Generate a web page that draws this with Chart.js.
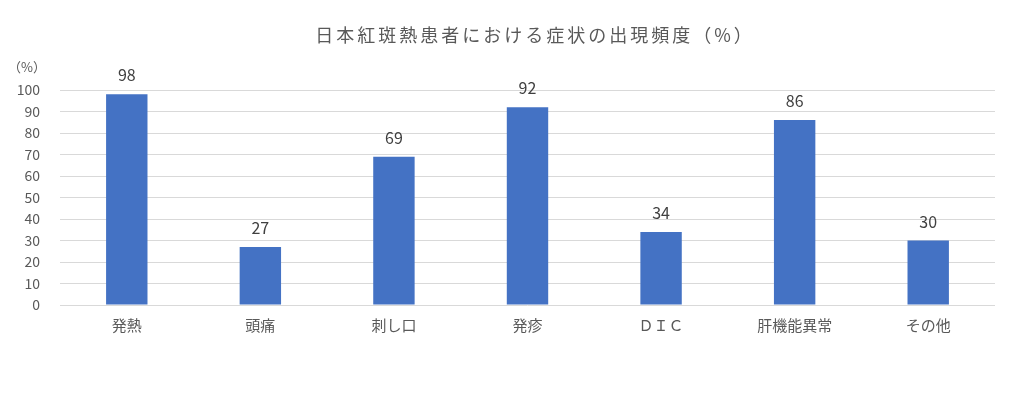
<!DOCTYPE html>
<html>
<head>
<meta charset="utf-8">
<script src="https://cdn.jsdelivr.net/npm/chart.js@4"></script>
<style>
  html, body { margin: 0; padding: 0; background: #fff; }
  #wrap { width: 1011px; height: 407px; }
</style>
</head>
<body>
<div id="wrap"><canvas id="symptomChart"></canvas></div>
<script>
const categories = ["発熱", "頭痛", "刺し口", "発疹", "ＤＩＣ", "肝機能異常", "その他"];
const frequency = [98, 27, 69, 92, 34, 86, 30];
const yTicks = [0, 10, 20, 30, 40, 50, 60, 70, 80, 90, 100];
const chartTitle = "日本紅斑熱患者における症状の出現頻度（%）";

const FONT = "'Noto Sans CJK JP', 'Noto Sans', sans-serif";
const TEXT = "#595959";

// title (spaced out like the original), value labels and the "(%)" unit mark
const barLabels = {
  id: "barLabels",
  afterDatasetsDraw(chart) {
    const { ctx } = chart;
    const meta = chart.getDatasetMeta(0);
    ctx.save();
    ctx.textAlign = "center";
    ctx.textBaseline = "middle";

    ctx.font = "18px " + FONT;
    ctx.fillStyle = TEXT;
    ctx.letterSpacing = "3px";
    ctx.fillText(chartTitle, 535, 35);
    ctx.letterSpacing = "0px";

    ctx.font = "16px " + FONT;
    ctx.fillStyle = "#404040";
    meta.data.forEach((bar, i) => {
      ctx.fillText(String(frequency[i]), bar.x, bar.y - 19);
    });

    ctx.font = "13px " + FONT;
    ctx.fillStyle = TEXT;
    ctx.fillText("（%）", 27, 67);
    ctx.restore();
  },
};

new Chart(document.getElementById("symptomChart"), {
  type: "bar",
  data: {
    labels: categories,
    datasets: [
      {
        data: frequency,
        backgroundColor: "#4472C4",
        categoryPercentage: 1,
        barPercentage: 0.31,
      },
    ],
  },
  options: {
    responsive: true,
    maintainAspectRatio: false,
    animation: false,
    layout: { padding: { left: 0, right: 16, top: 90, bottom: 70 } },
    plugins: {
      legend: { display: false },
      tooltip: { enabled: false },
      title: { display: false },
    },
    scales: {
      x: {
        grid: { display: false },
        border: { display: false },
        ticks: { color: TEXT, font: { family: FONT, size: 15 }, padding: 3 },
      },
      y: {
        min: 0,
        max: 100,
        afterBuildTicks: (s) => { s.ticks = yTicks.map((v) => ({ value: v })); },
        afterFit: (s) => { s.width = 60; },
        grid: { color: "#D9D9D9", drawTicks: false },
        border: { display: false },
        ticks: { color: TEXT, font: { family: FONT, size: 14 }, padding: 20 },
      },
    },
  },
  plugins: [barLabels],
});
</script>
</body>
</html>
